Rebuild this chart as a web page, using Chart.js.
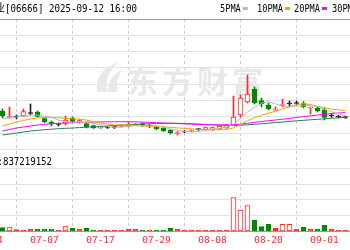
<!DOCTYPE html>
<html>
<head>
<meta charset="utf-8">
<script src="https://cdn.jsdelivr.net/npm/chart.js@4.4.1/dist/chart.umd.min.js"></script>
<style>
html, body { margin: 0; padding: 0; background: #fff; }
canvas { display: block; }
</style>
</head>
<body>
<canvas id="kline" width="350" height="250"></canvas>
<script>
// HK trading days in view; the first two only carry the clipped left tick label
const dates = ['06-24','06-25','06-26','06-27','06-30','07-02','07-03','07-04',
  '07-07','07-08','07-09','07-10','07-11','07-14','07-15','07-16',
  '07-17','07-18','07-21','07-22','07-23','07-24','07-25','07-28',
  '07-29','07-30','07-31','08-01','08-04','08-05','08-06','08-07',
  '08-08','08-11','08-12','08-13','08-14','08-15','08-18','08-19',
  '08-20','08-21','08-22','08-25','08-26','08-27','08-28','08-29',
  '09-01','09-02','09-03','09-04'];
const tickDates = ['06-24','07-07','07-17','07-29','08-08','08-20','09-01'];

// daily candles from 06-26 onwards (HKD)
const open = [1.200,1.1675,1.170,1.175,1.1875,1.195,1.1625,1.145,1.1325,1.1375,
  1.165,1.145,1.1375,1.1275,1.115,1.1175,1.1175,1.1225,1.125,1.130,
  1.1375,1.125,1.120,1.115,1.105,1.0875,1.095,1.0975,1.1075,1.105,
  1.105,1.110,1.115,1.130,1.180,1.245,1.310,1.2525,1.230,1.205,
  1.2275,1.235,1.2375,1.2375,1.215,1.215,1.205,1.175,1.170,1.1675];
const close = [1.175,1.170,1.170,1.1975,1.1875,1.1725,1.145,1.135,1.1325,1.155,
  1.1475,1.1525,1.120,1.115,1.120,1.1175,1.1175,1.1275,1.1325,1.135,
  1.125,1.125,1.110,1.100,1.090,1.0925,1.095,1.1025,1.1075,1.1175,
  1.1175,1.125,1.130,1.170,1.265,1.285,1.240,1.235,1.210,1.2075,
  1.230,1.235,1.2375,1.220,1.220,1.200,1.1675,1.175,1.170,1.1675];
const high = [1.210,1.220,1.180,1.210,1.235,1.200,1.165,1.150,1.140,1.175,
  1.170,1.1575,1.145,1.130,1.1225,1.1225,1.1225,1.130,1.145,1.1375,
  1.140,1.1325,1.125,1.1175,1.1075,1.0975,1.1025,1.105,1.1125,1.120,
  1.120,1.1275,1.1325,1.275,1.280,1.380,1.320,1.265,1.240,1.220,
  1.260,1.250,1.250,1.2475,1.220,1.220,1.215,1.1875,1.1775,1.1725];
const low = [1.165,1.165,1.160,1.1725,1.180,1.170,1.1425,1.125,1.125,1.130,
  1.140,1.140,1.115,1.1125,1.1125,1.1125,1.1125,1.120,1.120,1.1275,
  1.1225,1.1175,1.105,1.0975,1.085,1.080,1.090,1.095,1.1025,1.1025,
  1.1025,1.1075,1.1125,1.1275,1.170,1.240,1.235,1.220,1.205,1.2025,
  1.220,1.220,1.230,1.215,1.185,1.195,1.155,1.1675,1.165,1.1625];
// volume, million shares
const volume = [845,1024,333,256,512,512,512,512,256,1280,
  768,512,768,256,256,256,256,256,512,512,
  256,256,256,256,768,512,256,256,256,256,
  256,256,256,8525,5376,6477,2816,1101,1715,691,
  1715,1715,512,947,512,512,1459,512,256,256];

const ma5 = [1.160,1.165,1.170,1.175,1.180,1.1795,1.1745,1.1675,1.1545,1.148,
  1.143,1.1445,1.1415,1.138,1.131,1.125,1.118,1.1195,1.123,1.126,
  1.1275,1.129,1.1255,1.119,1.110,1.1035,1.0975,1.096,1.0975,1.103,
  1.108,1.114,1.1195,1.132,1.1615,1.195,1.218,1.239,1.247,1.2355,
  1.2245,1.2235,1.224,1.226,1.228,1.222,1.2085,1.196,1.186,1.176];
const ma10 = [1.125,1.135,1.145,1.1525,1.160,1.165,1.1675,1.1675,1.166,1.164,
  1.161,1.1595,1.1545,1.146,1.1395,1.134,1.131,1.1305,1.1305,1.1285,
  1.126,1.1235,1.1225,1.121,1.118,1.1155,1.113,1.1105,1.108,1.1065,
  1.106,1.106,1.108,1.115,1.1325,1.1515,1.166,1.179,1.1895,1.1985,
  1.210,1.221,1.2315,1.2365,1.232,1.2235,1.216,1.210,1.206,1.202];
const ma20 = [1.100,1.1075,1.115,1.120,1.125,1.130,1.1335,1.136,1.138,1.140,
  1.1415,1.143,1.144,1.145,1.1455,1.146,1.146,1.1465,1.1465,1.146,
  1.1445,1.143,1.1415,1.140,1.1385,1.137,1.1355,1.134,1.133,1.132,
  1.131,1.130,1.130,1.131,1.134,1.1385,1.143,1.1475,1.1515,1.155,
  1.159,1.163,1.1675,1.172,1.176,1.180,1.1835,1.187,1.190,1.1925];
const ma30 = [1.080,1.085,1.090,1.095,1.100,1.1035,1.1065,1.109,1.1115,1.1135,
  1.115,1.117,1.119,1.121,1.123,1.125,1.127,1.129,1.131,1.133,
  1.135,1.1365,1.1375,1.1385,1.139,1.1385,1.1375,1.136,1.1345,1.133,
  1.131,1.1295,1.1285,1.1275,1.129,1.131,1.1335,1.136,1.139,1.142,
  1.145,1.148,1.151,1.1535,1.156,1.1585,1.161,1.1635,1.166,1.168];

const RED = '#ff2a2a', GREEN = '#008a00', FLAT = '#222';
const first = dates.indexOf('06-26');
const idx = open.map((_, j) => j + first);
const dir = open.map((o, j) => close[j] > o ? 1 : (close[j] < o ? -1 : 0));
const candleColor = dir.map(d => d > 0 ? RED : (d < 0 ? GREEN : FLAT));

const wicks = idx.map((x, j) => ({ x: x, y: [low[j], high[j]] }));
const bodies = idx.map((x, j) => ({ x: x, y: [Math.min(open[j], close[j]), Math.max(open[j], close[j])] }));
const vols = idx.map((x, j) => ({ x: x, y: volume[j] }));
const line = arr => idx.map((x, j) => ({ x: x, y: arr[j] }));

// horizontal grid of the price panel and of the volume panel
const priceGrid = [];
for (let k = 8; k >= 0; k--) priceGrid.push(1.66 - 0.0815 * k);
const volGrid = [4000, 8000, 12000, 16000];

const slot = 7;                   // px per trading day
const xMin = 8 - 44.5 / slot;      // 07-07 sits at 44px
const xMax = xMin + 350 / slot;

function squeezed(c, txt, x, y, adv) {
  c.save();
  c.translate(x, y);
  c.scale(adv / 6.62, 1);
  c.fillText(txt, 0, 0);
  c.restore();
}

const decor = {
  id: 'decor',
  beforeDatasetsDraw(chart) {
    const c = chart.ctx;
    c.save();
    c.fillStyle = '#e8e8e8';
    // watermark logo
    c.beginPath();
    c.moveTo(97, 92);
    c.quadraticCurveTo(94, 70, 119, 62);
    c.quadraticCurveTo(104, 74, 107, 92);
    c.closePath();
    c.fill();
    c.beginPath();
    c.moveTo(108, 92);
    c.quadraticCurveTo(108, 76, 122, 70);
    c.quadraticCurveTo(116, 80, 117, 92);
    c.closePath();
    c.fill();
    c.font = 'bold 31px "Noto Sans CJK SC"';
    c.textBaseline = 'alphabetic';
    ['东', '方', '财', '富'].forEach((ch, n) => c.fillText(ch, 127 + n * 35, 93));
    c.restore();
  },
  afterDraw(chart) {
    const c = chart.ctx;
    c.save();
    c.fillStyle = '#000';
    c.textBaseline = 'alphabetic';
    c.font = '11px "Noto Sans CJK SC"';
    c.fillText('恒大物业', -39, 12);
    c.font = '11px "DejaVu Sans Mono"';
    squeezed(c, '[06666] 2025-09-12 16:00', 5, 12, 5.5);
    // MA legend
    const leg = [['5PMA', 220, '#b8b8b8'], ['10PMA', 257, '#f5a300'], ['20PMA', 294, '#ff00ff'], ['30PMA', 332, '#2e7d4f']];
    leg.forEach(([t, x, col]) => {
      c.fillStyle = '#000';
      squeezed(c, t, x, 12, 5.2);
      c.fillStyle = col;
      c.fillRect(x + t.length * 5.2 + 2, 7, 5, 3);
    });
    // volume header
    c.fillStyle = '#000';
    c.font = '11px "Noto Sans CJK SC"';
    c.textAlign = 'right';
    c.fillText('成交量', -2.5, 165);
    c.textAlign = 'left';
    c.font = '11px "DejaVu Sans Mono"';
    squeezed(c, ':837219152', -2.5, 165, 5.45);
    c.restore();
  }
};

new Chart(document.getElementById('kline'), {
  type: 'bar',
  data: {
    datasets: [
      { type: 'line', data: line(ma5), yAxisID: 'y', borderColor: '#b8b8b8', borderWidth: 1, pointRadius: 0, order: 0 },
      { type: 'line', data: line(ma10), yAxisID: 'y', borderColor: '#f5a300', borderWidth: 1, pointRadius: 0, order: 0 },
      { type: 'line', data: line(ma20), yAxisID: 'y', borderColor: '#ff00ff', borderWidth: 1, pointRadius: 0, order: 0 },
      { type: 'line', data: line(ma30), yAxisID: 'y', borderColor: '#2e7d4f', borderWidth: 1, pointRadius: 0, order: 0 },
      { data: bodies, yAxisID: 'y', grouped: false, barThickness: 5, minBarLength: 1, order: 1,
        backgroundColor: dir.map(d => d > 0 ? '#fff' : (d < 0 ? GREEN : FLAT)),
        borderColor: candleColor, borderWidth: 1, borderSkipped: false },
      { data: wicks, yAxisID: 'y', grouped: false, barThickness: 1, order: 2,
        backgroundColor: candleColor, borderWidth: 0 },
      { data: vols, yAxisID: 'yv', grouped: false, barThickness: 5, minBarLength: 1, order: 3,
        backgroundColor: dir.map((d, j) => d < 0 ? GREEN : (volume[j] < 900 ? RED : '#fff')),
        borderColor: dir.map(d => d < 0 ? GREEN : RED), borderWidth: 1, borderSkipped: false }
    ]
  },
  options: {
    responsive: false,
    animation: false,
    layout: { padding: { top: 19, left: 0, right: 0, bottom: 0 } },
    plugins: { legend: { display: false }, tooltip: { enabled: false } },
    scales: {
      x: {
        type: 'linear', min: xMin, max: xMax, offset: false,
        afterBuildTicks: s => { s.ticks = tickDates.map(d => ({ value: dates.indexOf(d) })); },
        afterFit: s => { s.paddingLeft = 0; s.paddingRight = 0; s.height = 19; },
        ticks: { autoSkip: false, maxRotation: 0, padding: 4, color: RED,
          font: { family: 'DejaVu Sans Mono', size: 9.5 }, callback: v => dates[v] },
        grid: { color: '#cccccc', lineWidth: 1, drawTicks: false },
        border: { display: true, color: '#9a9a9a', dash: [3, 3] }
      },
      y: {
        type: 'linear', position: 'left', min: 0.60, max: 1.66,
        afterBuildTicks: s => { s.ticks = priceGrid.map(v => ({ value: v })); },
        afterFit: s => { s.width = 0; },
        ticks: { display: false },
        grid: { drawTicks: false, color: c => c.tick && c.tick.value > 1.65 ? '#999' : '#e2e2e2' },
        border: { display: false }
      },
      yv: {
        type: 'linear', position: 'right', min: 0, max: 54272,
        afterBuildTicks: s => { s.ticks = volGrid.map(v => ({ value: v })); },
        afterFit: s => { s.width = 0; },
        ticks: { display: false },
        grid: { drawTicks: false, color: '#e2e2e2' },
        border: { display: false }
      }
    }
  },
  plugins: [decor]
});
</script>
</body>
</html>
